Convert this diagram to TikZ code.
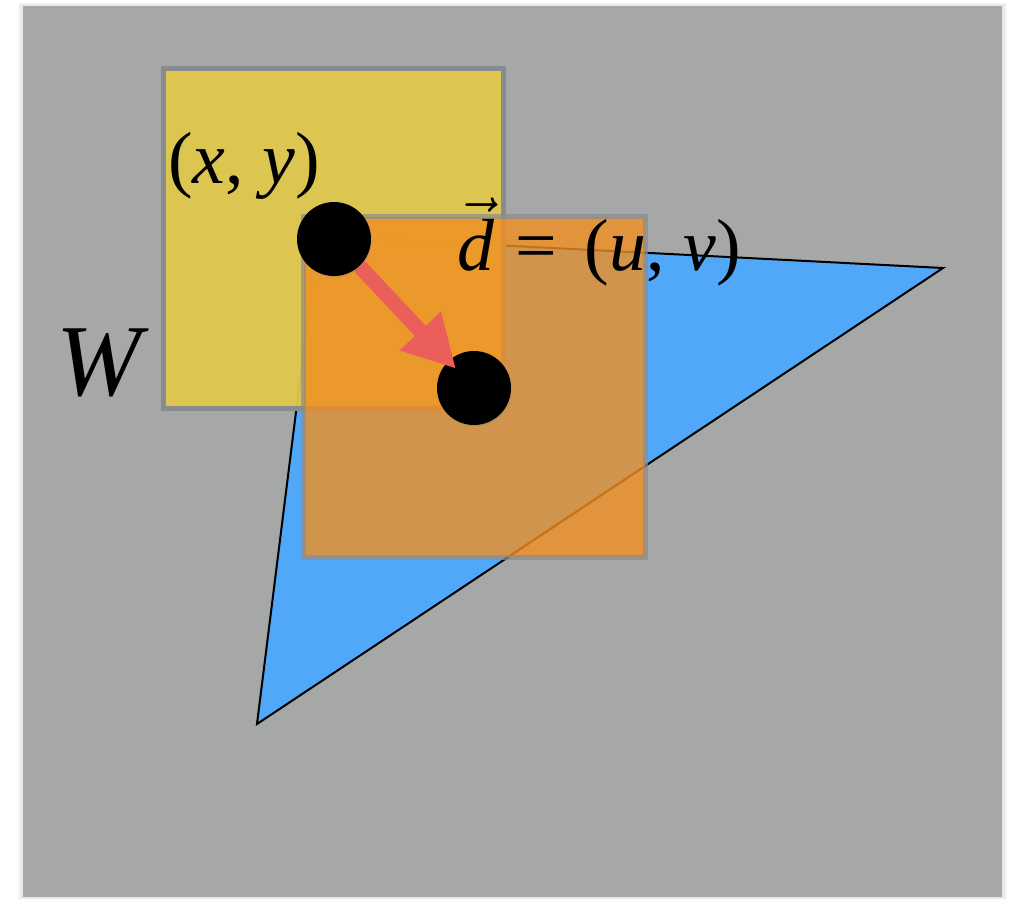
\documentclass[tikz,border=0pt]{standalone}
\usepackage{fix-cm}
\usepackage{fontspec}
\setmainfont{Liberation Serif}
\usetikzlibrary{arrows.meta,shadows}

\begin{document}
\begin{tikzpicture}[x=0.02cm,y=-0.02cm,
		pastille/.style={circle, fill=black, minimum size=1.48cm, inner sep=0pt,
			drop shadow={shadow xshift=0.4pt, shadow yshift=-0.8pt, opacity=0.3}},
		texte/.style={inner sep=0pt, anchor=base west, font=\fontsize{42}{50}\selectfont}]
			\definecolor{fond}{RGB}{165,168,167}
			\definecolor{fenetre}{RGB}{224,199,76}
			\definecolor{cadre}{RGB}{137,140,143}
			\definecolor{triangle}{RGB}{82,168,248}
			\definecolor{decale}{RGB}{240,143,33}
			\definecolor{fleche}{RGB}{235,95,90}
			\useasboundingbox (0,0) rectangle (1011,899);
			\fill[black, opacity=0.04] (18,3) rectangle (1007,899);
			\fill[black, opacity=0.05] (20,4) rectangle (1005,899);
			\fill[fond] (23,6) rectangle (1002,897);
			\filldraw[fill=triangle, draw=black, line width=0.04cm] (318,236) -- (943,268) -- (257,724) -- cycle;
			\filldraw[fill=fenetre, fill opacity=0.95, draw=cadre, line width=0.1cm] (163.5,68.5) rectangle (503,408);
			\filldraw[fill=decale, fill opacity=0.8, draw=cadre, draw opacity=0.7, line width=0.1cm] (303.5,216.5) rectangle (645,557);
			\node[pastille] (p) at (334,239) {};
			\node[pastille] (q) at (474,388) {};
			\draw[fleche, line width=0.3cm, -{Triangle[length=1.04cm,width=1.06cm]}, shorten >=-0.22cm] (p) -- (q);
			\node[texte] (pos) at (168,183) {(\textit{x}, \textit{y})};
			\node[texte] (depl) at (457,270) {$\vec{\mbox{\itshape d}}$\hspace{12pt}=\hspace{16pt}(\textit{u}, \textit{v})};
			\node[texte, font=\fontsize{58}{68}\selectfont] (fen) at (56,395) {\textit{W}};
		\end{tikzpicture}
\end{document}
